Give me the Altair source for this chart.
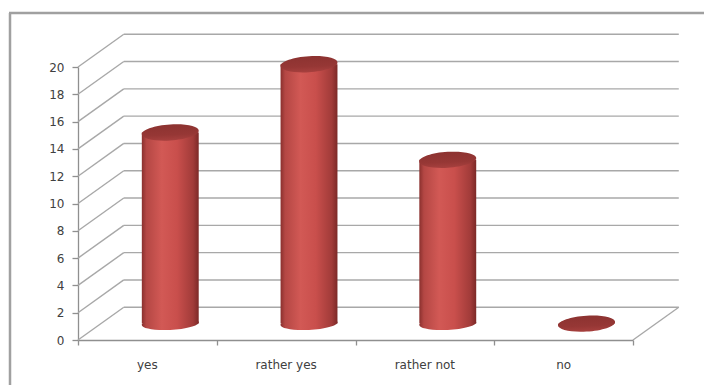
import altair as alt
import pandas as pd

# Survey answers and counts
categories = ["yes", "rather yes", "rather not", "no"]
values = [14, 19, 12, 0]
y_ticks = [0, 2, 4, 6, 8, 10, 12, 14, 16, 18, 20]

# 3-D look: depth offset of the back wall (category units / value units)
DX = 0.33
DY = 2.4
CYL_W = 0.41      # cylinder diameter in category units
CYL_PX = 57       # same diameter in pixels, used as symbol size

n = len(categories)

grid = pd.DataFrame({"v": y_ticks})
grid["x0"] = 0.0
grid["xb"] = DX
grid["xe"] = n + DX
grid["vb"] = grid["v"] + DY

floor_edge = pd.DataFrame({"x": [n], "x2": [n + DX], "y": [0], "y2": [DY]})

bars = pd.DataFrame({"cat": categories, "value": values})
bars["i"] = range(n)
bars["xc"] = bars["i"] + 0.5 + DX / 2
bars["xl"] = bars["xc"] - CYL_W / 2
bars["xr"] = bars["xc"] + CYL_W / 2
bars["base"] = DY / 2
bars["top"] = bars["value"] + DY / 2
bars["lx"] = bars["i"] + 0.5
bars["ly"] = -1.8


def ellipse_path(k=0.25, shear=0.05):
    """Bezier ellipse in [-1, 1] symbol space, slightly tilted."""
    c = 0.5523
    pts = [(-1, 0),
           (-1, -c * k), (-c, -k), (0, -k),
           (c, -k), (1, -c * k), (1, 0),
           (1, c * k), (c, k), (0, k),
           (-c, k), (-1, c * k), (-1, 0)]
    p = [(x, y - shear * x) for x, y in pts]
    f = lambda q: f"{q[0]:.4f},{q[1]:.4f}"
    d = "M" + f(p[0])
    for j in range(1, len(p), 3):
        d += " C" + " ".join(f(q) for q in p[j:j + 3])
    return d + " Z"


TOP_SHAPE = ellipse_path(k=0.28, shear=0.06)
BOTTOM_SHAPE = ellipse_path(k=0.22, shear=0.05)

body_grad = alt.LinearGradient(
    gradient="linear", x1=0, x2=1, y1=0, y2=0,
    stops=[
        alt.GradientStop(offset=0.0, color="#8a302e"),
        alt.GradientStop(offset=0.08, color="#b44744"),
        alt.GradientStop(offset=0.35, color="#d25955"),
        alt.GradientStop(offset=0.62, color="#c94f4c"),
        alt.GradientStop(offset=0.9, color="#a13b39"),
        alt.GradientStop(offset=1.0, color="#7c2927"),
    ],
)
top_grad = alt.LinearGradient(
    gradient="linear", x1=0, x2=0.15, y1=0, y2=1,
    stops=[
        alt.GradientStop(offset=0.0, color="#8b3230"),
        alt.GradientStop(offset=0.7, color="#963735"),
        alt.GradientStop(offset=1.0, color="#a53f3d"),
    ],
)

GRID = "#a8a8a8"
AXIS = "#8f8f8f"
FONT = "DejaVu Sans"

xs = alt.Scale(domain=[0, n], nice=False, zero=False)
ys = alt.Scale(domain=[0, 20], nice=False, zero=False)

x_axis = alt.Axis(values=list(range(n + 1)), labels=False, tickSize=5,
                  tickColor=AXIS, domainColor=AXIS, grid=False, title=None,
                  domainWidth=1.3, tickWidth=1.3)
y_axis = alt.Axis(values=y_ticks, tickSize=6, tickColor=AXIS, domainColor=AXIS,
                  grid=False, title=None, labelFont=FONT, labelFontSize=12,
                  labelColor="#404040", labelPadding=8, domainWidth=1.3,
                  tickWidth=1.3)


def X(field):
    return alt.X(f"{field}:Q", scale=xs, axis=x_axis)


def Y(field):
    return alt.Y(f"{field}:Q", scale=ys, axis=y_axis)


# outer frame of the chart area
frame_left = alt.Chart(pd.DataFrame({"k": [0]})).mark_rule(
    color="#a0a0a0", strokeWidth=2.5
).encode(x=alt.value(-68), y=alt.value(-54), y2=alt.value(318))
frame_top = alt.Chart(pd.DataFrame({"k": [0]})).mark_rule(
    color="#a0a0a0", strokeWidth=2.5
).encode(x=alt.value(-69), x2=alt.value(626), y=alt.value(-54))

back_wall = alt.Chart(grid).mark_rule(color=GRID, strokeWidth=1.4).encode(
    x=X("xb"), x2="xe:Q", y=Y("vb")
)
side_wall = alt.Chart(grid).mark_rule(color=GRID, strokeWidth=1.4).encode(
    x=X("x0"), x2="xb:Q", y=Y("v"), y2="vb:Q"
)
floor = alt.Chart(floor_edge).mark_rule(color=GRID, strokeWidth=1.4).encode(
    x=X("x"), x2="x2:Q", y=Y("y"), y2="y2:Q"
)

bottom_cap = alt.Chart(bars).mark_point(
    shape=BOTTOM_SHAPE, filled=True, size=CYL_PX ** 2, fill=body_grad,
    opacity=1, strokeWidth=0
).encode(x=X("xc"), y=Y("base"))

body = alt.Chart(bars).mark_rect(fill=body_grad).encode(
    x=X("xl"), x2="xr:Q", y=Y("base"), y2="top:Q"
)

top_cap = alt.Chart(bars).mark_point(
    shape=TOP_SHAPE, filled=True, size=CYL_PX ** 2, fill=top_grad,
    opacity=1, strokeWidth=0
).encode(x=X("xc"), y=Y("top"))

labels = alt.Chart(bars).mark_text(
    font=FONT, fontSize=12, color="#404040", baseline="middle", align="center"
).encode(x=X("lx"), y=Y("ly"), text="cat:N")

chart = alt.layer(
    frame_left, frame_top, back_wall, side_wall, floor,
    bottom_cap, body, top_cap, labels
).properties(
    width=555, height=273,
    padding={"left": 78, "top": 67, "right": 71, "bottom": 45},
    autosize="none",
    background="white",
).configure_view(stroke=None)

chart.save("out.html", embed_options={"renderer": "svg", "actions": False})
